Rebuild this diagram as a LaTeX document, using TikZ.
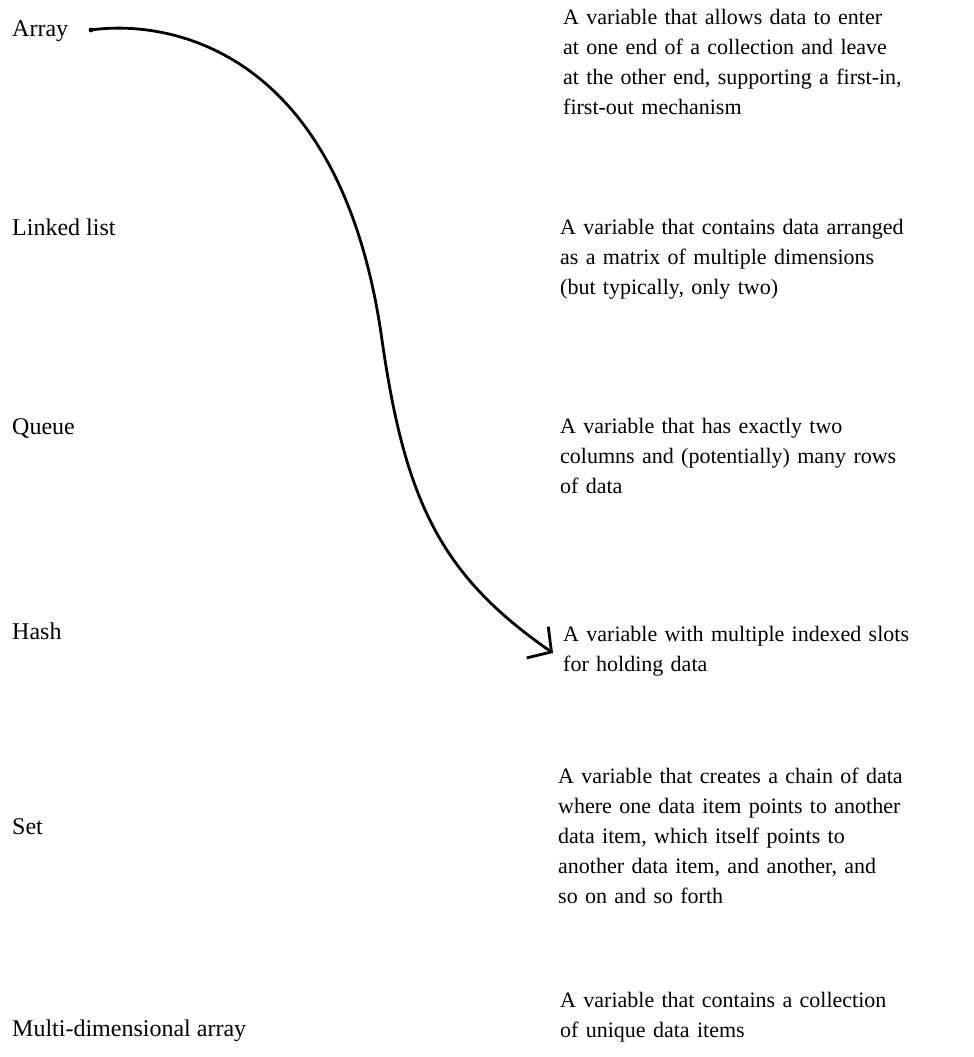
\documentclass[tikz,border=0pt]{standalone}
\usepackage{fontspec}
\setmainfont{Liberation Serif}
\usepackage{tikz}
\usetikzlibrary{positioning, arrows.meta}

\begin{document}
\begin{tikzpicture}[
    x=1pt, y=-1pt,
    every node/.style={inner sep=0pt, anchor=base west},
    term/.style={font=\fontsize{24}{30}\selectfont},
    meaning/.style={font=\fontsize{22}{30}\selectfont, text width=420pt, align=left},
    arrow/.style={-{Straight Barb[length=17pt, width=38pt, line width=2.8pt]}, line width=2.8pt, line cap=round}
]
\useasboundingbox (0,0) rectangle (974,1057);

% Terms on the left
\node[term] (array) at (12,37) {Array};
\node[term] (linked) at (12,235) {Linked list};
\node[term] (queue) at (12,434) {Queue};
\node[term] (hash) at (12,639) {Hash};
\node[term] (set) at (12,834) {Set};
\node[term] (multi) at (12,1036) {Multi-dimensional array};

% Meanings on the right
\node[meaning] (m1) at (563,25) {A variable that allows data to enter\\
 at one end of a collection and leave\\
 at the other end, supporting a first-in,\\
 first-out mechanism};
\node[meaning] (m2) at (560,234) {A variable that contains data arranged\\
 as a matrix of multiple dimensions\\
 (but typically, only two)};
\node[meaning] (m3) at (560,433) {A variable that has exactly two\\
 columns and (potentially) many rows\\
 of data};
\node[meaning] (m4) at (563,641) {A variable with multiple indexed slots\\
 for holding data};
\node[meaning] (m5) at (558,783) {A variable that creates a chain of data\\
 where one data item points to another\\
 data item, which itself points to\\
 another data item, and another, and\\
 so on and so forth};
\node[meaning] (m6) at (560,1007) {A variable that contains a collection\\
 of unique data items};

% Matched pair
\coordinate (start) at (91,30);
\coordinate (m4in) at ([xshift=-10pt, yshift=-12pt]m4.base west);
\fill (start) circle (2.4pt);
\draw[arrow] (start) .. controls (160,20) and (340,40) .. (382,340)
    .. controls (405,500) and (440,575) .. (m4in);

\end{tikzpicture}
\end{document}
